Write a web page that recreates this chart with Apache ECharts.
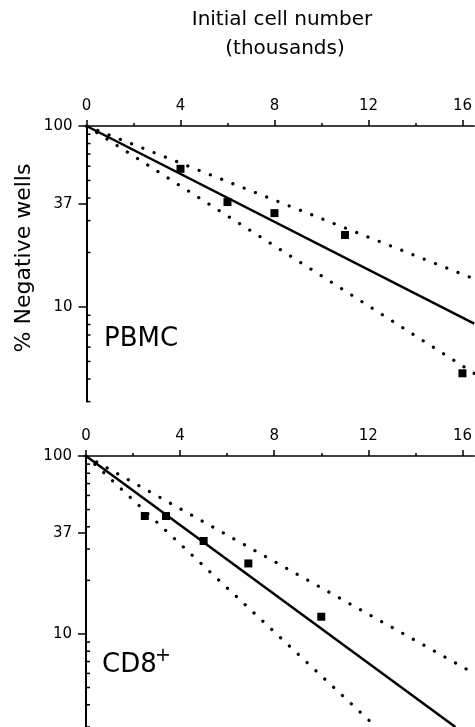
<!DOCTYPE html>
<html><head><meta charset="utf-8">
<script src="https://cdn.jsdelivr.net/npm/echarts@6/dist/echarts.min.js"></script>
<style>html,body{margin:0;padding:0;background:#fff}#c{width:475px;height:727px}</style>
</head><body><div id="c"></div>
<script>
// ---- data ----
const xTicks = [0, 4, 8, 12, 16];
const yTickLabels = [100, 37, 10];
const yMinorTicks = [90, 80, 70, 60, 50, 40, 30, 20, 9, 8, 7, 6, 5, 4, 3];

const pbmcCells = [4, 6, 8, 11, 16];
const pbmcNegative = [58, 38, 33, 25, 4.3];
const pbmcFitCells = [0, 16.5];
const pbmcFit = [100, 8.1];
const pbmcUpperCells = [0, 16.5];
const pbmcUpper = [100, 14.3];
const pbmcLowerCells = [0, 16.5];
const pbmcLower = [100, 4.3];

const cd8Cells = [2.5, 3.4, 5, 6.9, 10];
const cd8Negative = [46, 46, 33.3, 24.9, 12.5];
const cd8FitCells = [0, 15.7];
const cd8Fit = [100, 3];
const cd8UpperCells = [0, 16.5];
const cd8Upper = [100, 6.0];
const cd8LowerCells = [0, 12.33];
const cd8Lower = [100, 3];

// ---- chart ----
const FONT = '"DejaVu Sans", sans-serif';
const zip = (a, b) => a.map((v, i) => [v, b[i]]);

function xAxisCfg(gi) {
  return {
    type: 'value', gridIndex: gi, position: 'top', min: 0, max: 16.5, interval: 4,
    axisLine: { show: true, onZero: false, lineStyle: { color: '#000', width: 1.5 } },
    axisTick: { show: true, customValues: xTicks, length: 6, lineStyle: { color: '#000', width: 1.5 } },
    minorTick: { show: true, splitNumber: 2, length: 3, lineStyle: { color: '#000', width: 1.5 } },
    axisLabel: { customValues: xTicks, color: '#000', fontSize: 15, fontFamily: FONT, margin: 12 },
    splitLine: { show: false }, minorSplitLine: { show: false }
  };
}
function yAxisCfg(gi) {
  return {
    type: 'log', logBase: 10, gridIndex: gi, min: 3, max: 100,
    axisLine: { show: true, onZero: false, lineStyle: { color: '#000', width: 2 } },
    axisTick: { show: true, customValues: yTickLabels, length: 8, lineStyle: { color: '#000', width: 1.5 } },
    axisLabel: { customValues: yTickLabels, color: '#000', fontSize: 15, fontFamily: FONT, margin: 14 },
    splitLine: { show: false }
  };
}
function panelSeries(gi, cells, neg, fitX, fitY, upX, upY, loX, loY) {
  const base = { xAxisIndex: gi, yAxisIndex: gi, animation: false, silent: true };
  const dot = { color: '#000', width: 3.2, type: [0.1, 12], cap: 'round', opacity: 1 };
  return [
    Object.assign({ type: 'line', data: zip(fitX, fitY), symbol: 'none', lineStyle: { color: '#000', width: 2.5, opacity: 1 } }, base),
    Object.assign({ type: 'line', data: zip(upX, upY), symbol: 'none', lineStyle: dot }, base),
    Object.assign({ type: 'line', data: zip(loX, loY), symbol: 'none', lineStyle: dot }, base),
    Object.assign({ type: 'scatter', data: zip(cells, neg), symbol: 'rect', symbolSize: 8, itemStyle: { color: '#000', opacity: 1 }, z: 5 }, base),
    Object.assign({ type: 'scatter', data: yMinorTicks.map(v => [0, v]), symbol: 'rect', symbolSize: [4, 1.5], symbolOffset: [2, 0], clip: false, itemStyle: { color: '#000', opacity: 1 }, z: 6 }, base)
  ];
}

const chart = echarts.init(document.getElementById('c'), null, { renderer: 'canvas' });
chart.setOption({
  backgroundColor: '#fff',
  animation: false,
  grid: [
    { left: 86.5, top: 126, width: 388, height: 275.6 },
    { left: 86, top: 456, width: 388.5, height: 271 }
  ],
  xAxis: [xAxisCfg(0), xAxisCfg(1)],
  yAxis: [yAxisCfg(0), yAxisCfg(1)],
  series: [].concat(
    panelSeries(0, pbmcCells, pbmcNegative, pbmcFitCells, pbmcFit, pbmcUpperCells, pbmcUpper, pbmcLowerCells, pbmcLower),
    panelSeries(1, cd8Cells, cd8Negative, cd8FitCells, cd8Fit, cd8UpperCells, cd8Upper, cd8LowerCells, cd8Lower)
  ),
  graphic: [
    { type: 'text', x: 282, y: 20, style: { text: 'Initial cell number', font: '20px ' + FONT, fill: '#000', textAlign: 'center', textVerticalAlign: 'middle' } },
    { type: 'text', x: 285, y: 49, style: { text: '(thousands)', font: '20px ' + FONT, fill: '#000', textAlign: 'center', textVerticalAlign: 'middle' } },
    { type: 'text', x: 24, y: 258, rotation: Math.PI / 2, style: { text: '% Negative wells', font: '22px ' + FONT, fill: '#000', textAlign: 'center', textVerticalAlign: 'middle' } },
    { type: 'text', x: 104, y: 339, style: { text: 'PBMC', font: '26px ' + FONT, fill: '#000', textAlign: 'left', textVerticalAlign: 'middle' } },
    { type: 'text', x: 102, y: 665, style: { text: 'CD8', font: '26px ' + FONT, fill: '#000', textAlign: 'left', textVerticalAlign: 'middle' } },
    { type: 'text', x: 155, y: 656, style: { text: '+', font: '19px ' + FONT, fill: '#000', textAlign: 'left', textVerticalAlign: 'middle' } }
  ]
});
</script>
</body></html>
